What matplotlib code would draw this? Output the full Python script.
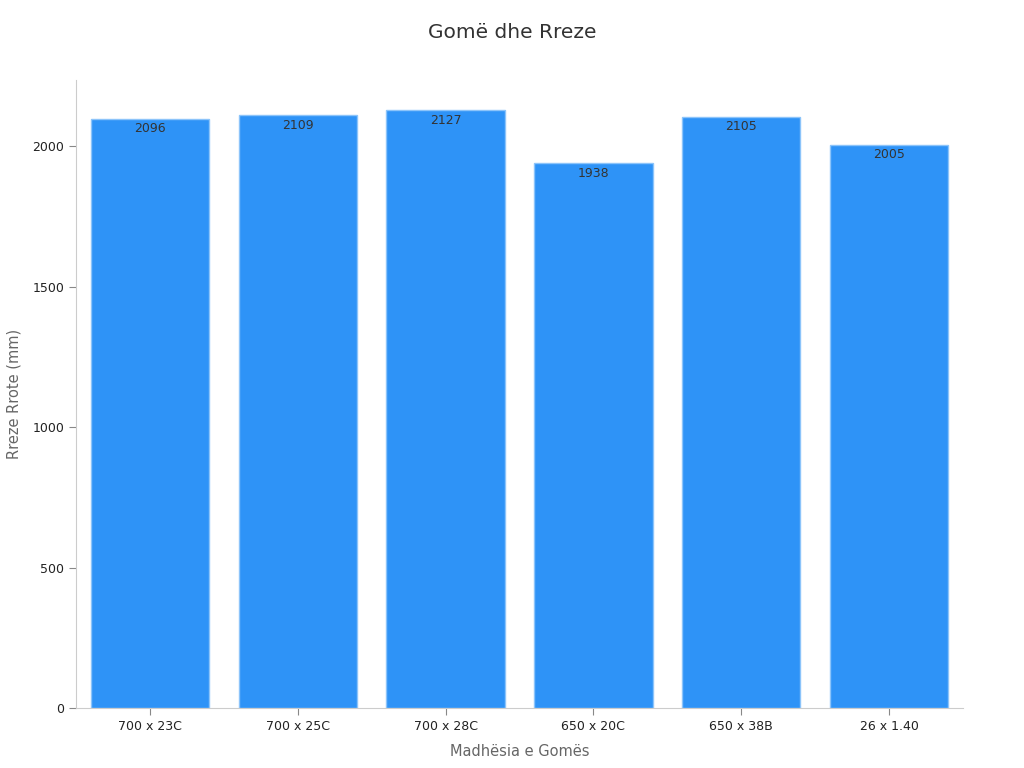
import matplotlib
matplotlib.use("Agg")
import matplotlib.pyplot as plt

sizes = ["700 x 23C", "700 x 25C", "700 x 28C", "650 x 20C", "650 x 38B", "26 x 1.40"]
radius = [2096, 2109, 2127, 1938, 2105, 2005]

plt.rcParams['font.family'] = ['DejaVu Sans']

fig = plt.figure(figsize=(10.24, 7.68), dpi=100)
ax = fig.add_axes([0.0742, 0.0781, 0.8662, 0.8177])

x = range(len(sizes))
bars = ax.bar(x, radius, width=0.8, color="#2E93F7", edgecolor="#8CC4FA", linewidth=1)

for b, v in zip(bars, radius):
    ax.text(b.get_x() + b.get_width() / 2, v - 12, str(v), ha="center", va="top",
            fontsize=9, color="#333333")

ax.set_xlim(-0.5, 5.5)
ax.set_ylim(0, 2235)
ax.set_xticks(list(x))
ax.set_xticklabels(sizes, fontsize=9, color="#222222")
ax.set_yticks([0, 500, 1000, 1500, 2000])
ax.tick_params(axis="y", labelsize=9, colors="#222222")
ax.tick_params(axis="both", color="#888888", length=5)

for s in ["top", "right"]:
    ax.spines[s].set_visible(False)
for s in ["left", "bottom"]:
    ax.spines[s].set_color("#cccccc")

ax.set_xlabel("Madhësia e Gomës", fontsize=10.5, color="#666666", labelpad=8)
ax.set_ylabel("Rreze Rrote (mm)", fontsize=10.5, color="#666666", labelpad=8)
fig.suptitle("Gomë dhe Rreze", fontsize=14.5, color="#333333", y=0.97)

fig.savefig("out.png", dpi=100)
